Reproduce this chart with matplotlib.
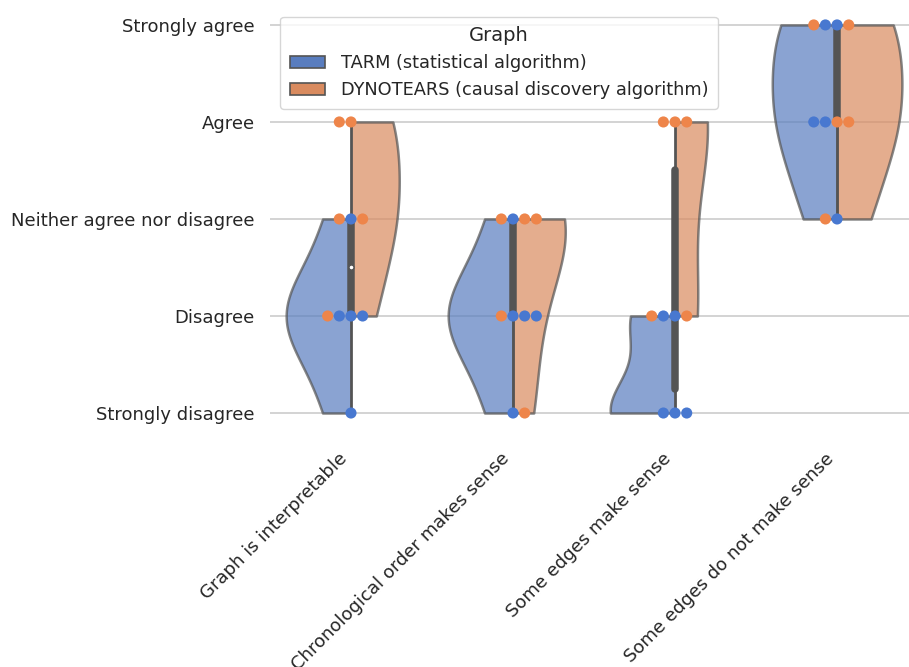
import colorsys
import matplotlib
matplotlib.use("Agg")
import matplotlib.pyplot as plt
from matplotlib.patches import Patch
import numpy as np
import pandas as pd
import seaborn as sns

questions = ["Graph is interpretable", "Chronological order makes sense",
             "Some edges make sense", "Some edges do not make sense"]
levels = ["Strongly disagree", "Disagree", "Neither agree nor disagree",
          "Agree", "Strongly agree"]
graphs = ["TARM (statistical algorithm)", "DYNOTEARS (causal discovery algorithm)"]

# ratings per question, 0 = strongly disagree ... 4 = strongly agree
tarm = [[2, 1, 1, 1, 0], [2, 1, 1, 1, 0], [1, 1, 0, 0, 0], [4, 4, 3, 3, 2]]
dynotears = [[3, 3, 2, 2, 1], [2, 2, 2, 1, 0], [3, 3, 3, 1, 1], [4, 4, 3, 3, 2]]

sns.set_style("whitegrid")
plt.rcParams["lines.solid_capstyle"] = "round"

muted = sns.color_palette("muted")[:2]


def desaturate(c, prop=0.75):
    h, l, s = colorsys.rgb_to_hls(*c)
    return colorsys.hls_to_rgb(h, l, s * prop)


fills = [desaturate(c) for c in muted]
lum = min(colorsys.rgb_to_hls(*c)[1] for c in fills)
gray = (lum * 0.6,) * 3
lw = 1.8


def kde(vals):
    vals = np.asarray(vals, float)
    bw = vals.std(ddof=1) * len(vals) ** (-1 / 5)
    grid = np.linspace(vals.min(), vals.max(), 100)
    dens = np.exp(-0.5 * ((grid[:, None] - vals[None, :]) / bw) ** 2).sum(1)
    dens /= len(vals) * bw * np.sqrt(2 * np.pi)
    return grid, dens


fig = plt.figure(figsize=(9.09, 6.67), dpi=100)
ax = fig.add_axes([0.297, 0.3517, 0.713, 0.640])

rows = []
for i, q in enumerate(questions):
    for g, vals in zip(graphs, [tarm[i], dynotears[i]]):
        for v in vals:
            rows.append({"question": q, "rating": v, "graph": g})
df = pd.DataFrame(rows)

# split violins, scaled so the wider half of each question fills 0.4
for i in range(len(questions)):
    curves = [kde(tarm[i]), kde(dynotears[i])]
    top = max(d.max() for _, d in curves)
    for side, (grid, dens), fc in zip([-1, 1], curves, fills):
        ax.fill_betweenx(grid, i, i + side * dens / top * 0.4,
                         facecolor=fc, edgecolor=gray, linewidth=lw, alpha=0.7)

    # box drawn for both graphs together
    both = np.concatenate([tarm[i], dynotears[i]])
    q25, q50, q75 = np.percentile(both, [25, 50, 75])
    lim = 1.5 * (q75 - q25)
    lo = both[both >= q25 - lim].min()
    hi = both[both <= q75 + lim].max()
    ax.plot([i, i], [lo, hi], color=gray, linewidth=lw, zorder=2)
    ax.plot([i, i], [q25, q75], color=gray, linewidth=lw * 3, zorder=2)
    ax.scatter(i, q50, color="white", edgecolor=gray, s=(lw * 2) ** 2, zorder=3)

sns.swarmplot(data=df, x="question", y="rating", hue="graph", order=questions,
              hue_order=graphs, palette=muted, size=8, legend=False, ax=ax,
              zorder=4)

ax.set_xlim(-0.5, 3.5)
ax.set_ylim(-0.2, 4.2)
ax.set_xticks(range(len(questions)))
ax.set_xticklabels(questions, rotation=45, ha="right", fontsize=13)
ax.set_yticks(range(len(levels)))
ax.set_yticklabels(levels, fontsize=13)
ax.set_xlabel("")
ax.set_ylabel("")
ax.xaxis.grid(False)
ax.yaxis.grid(True, color="#cccccc", linewidth=1.2)
ax.tick_params(axis="y", pad=7.5)
ax.tick_params(axis="x", pad=9)
for s in ax.spines.values():
    s.set_visible(False)

handles = [Patch(facecolor=fc, edgecolor=gray, linewidth=1.2) for fc in fills]
ax.legend(handles, graphs, title="Graph", loc="upper left", fontsize=12.8,
          title_fontsize=14, handletextpad=0.85, borderpad=0.55,
          bbox_to_anchor=(0.002, 0.995))

fig.savefig("out.png", dpi=100)
